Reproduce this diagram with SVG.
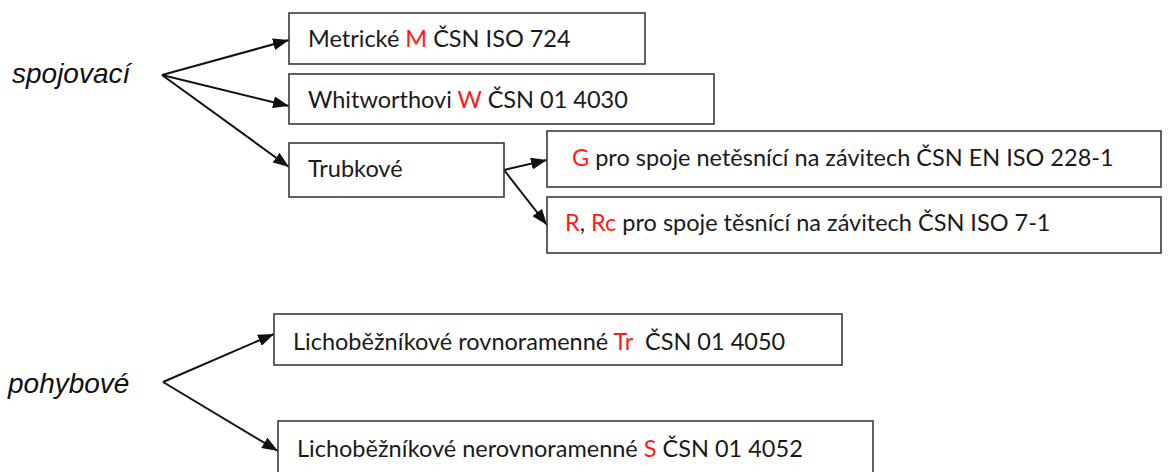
<svg xmlns="http://www.w3.org/2000/svg" width="1168" height="472" viewBox="0 0 1168 472">
  <style>
    .box { fill: #ffffff; stroke: #3a3a3a; stroke-width: 1.6; }
    .lbl { font-family: Lato, "Open Sans", "Liberation Sans", sans-serif; font-size: 23.5px; fill: #1a1a1a; white-space: pre; }
    .red { fill: #ff1a1a; }
    .cat { font-family: "Liberation Sans", Arial, sans-serif; font-style: italic; font-size: 28px; fill: #111111; }
    .edge { stroke: #111111; stroke-width: 2; fill: none; marker-end: url(#arrow); }
  </style>
  <defs>
    <marker id="arrow" viewBox="0 0 16 12" refX="16" refY="6" markerWidth="16" markerHeight="12" markerUnits="userSpaceOnUse" orient="auto">
      <path d="M0,0 L16,6 L0,12 Z" fill="#111111"/>
    </marker>
  </defs>

  <rect width="1168" height="472" fill="#ffffff"/>

  <!-- category labels -->
  <g id="spojovaci">
    <text class="cat" x="12" y="83">spojovací</text>
  </g>
  <g id="pohybove">
    <text class="cat" x="8" y="393">pohybové</text>
  </g>

  <!-- connectors -->
  <g id="connectors">
    <line class="edge" x1="162" y1="75" x2="289" y2="40"/>
    <line class="edge" x1="162" y1="75" x2="289" y2="106"/>
    <line class="edge" x1="162" y1="75" x2="289" y2="167"/>
    <line class="edge" x1="504" y1="170" x2="547" y2="160"/>
    <line class="edge" x1="504" y1="170" x2="547" y2="225"/>
    <line class="edge" x1="163" y1="382" x2="274" y2="334"/>
    <line class="edge" x1="163" y1="382" x2="278" y2="451"/>
  </g>

  <g id="metricke">
    <rect class="box" x="289" y="13" width="356" height="51"/>
    <text class="lbl" x="308" y="47">Metrické <tspan class="red">M</tspan> ČSN ISO 724</text>
  </g>
  <g id="whitworthovi">
    <rect class="box" x="289" y="74" width="425" height="50"/>
    <text class="lbl" x="308" y="108">Whitworthovi <tspan class="red">W</tspan> ČSN 01 4030</text>
  </g>
  <g id="trubkove">
    <rect class="box" x="289" y="143" width="215" height="54"/>
    <text class="lbl" x="308" y="177">Trubkové</text>
  </g>
  <g id="trubkove-g">
    <rect class="box" x="547" y="131" width="614" height="56"/>
    <text class="lbl" x="572" y="166"><tspan class="red">G</tspan> pro spoje netěsnící na závitech ČSN EN ISO 228-1</text>
  </g>
  <g id="trubkove-r">
    <rect class="box" x="547" y="197" width="614" height="56"/>
    <text class="lbl" x="565" y="231"><tspan class="red">R</tspan>, <tspan class="red">Rc</tspan> pro spoje těsnící na závitech ČSN ISO 7-1</text>
  </g>
  <g id="lichobeznikove-tr">
    <rect class="box" x="274" y="314" width="568" height="51"/>
    <text class="lbl" x="293" y="350">Lichoběžníkové rovnoramenné <tspan class="red">Tr</tspan>  ČSN 01 4050</text>
  </g>
  <g id="lichobeznikove-s">
    <rect class="box" x="278" y="421" width="595" height="60"/>
    <text class="lbl" x="297" y="457">Lichoběžníkové nerovnoramenné <tspan class="red">S</tspan> ČSN 01 4052</text>
  </g>
</svg>
